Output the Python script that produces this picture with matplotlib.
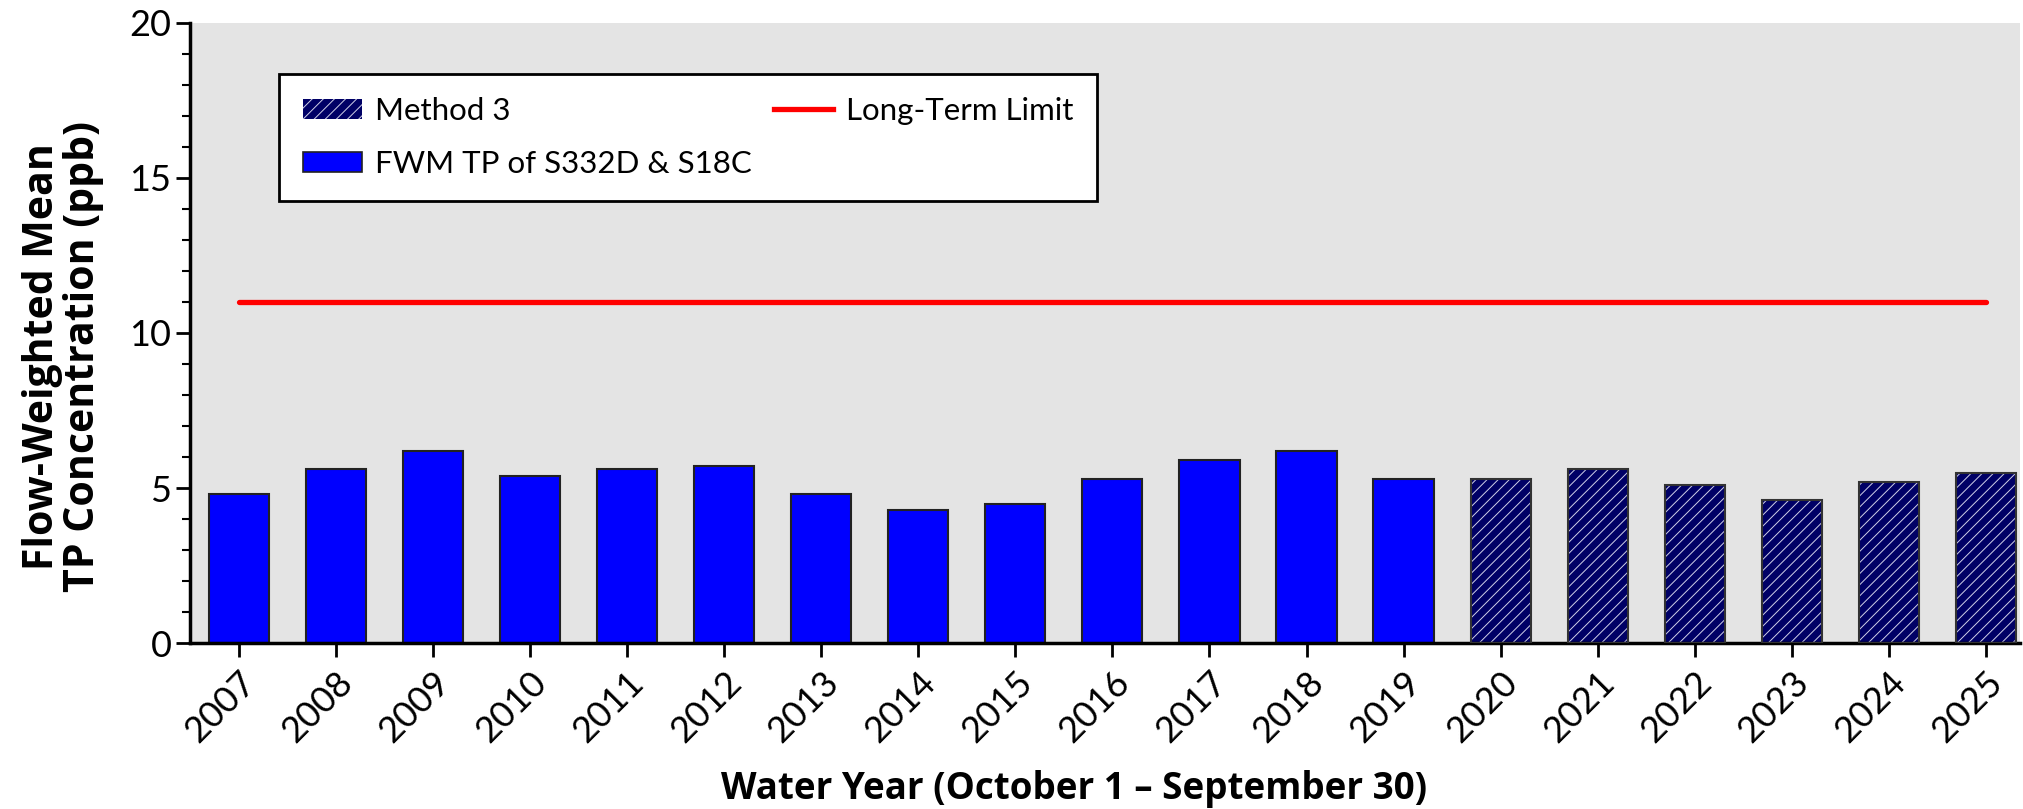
import matplotlib.pyplot as plt
from matplotlib.patches import Patch
from matplotlib.lines import Line2D
from matplotlib.ticker import MultipleLocator

years = list(range(2007, 2026))
fwm_tp = [4.8, 5.6, 6.2, 5.4, 5.6, 5.7, 4.8, 4.3, 4.5, 5.3, 5.9, 6.2, 5.3,
          5.3, 5.6, 5.1, 4.6, 5.2, 5.5]
method3_years = [2020, 2021, 2022, 2023, 2024, 2025]
long_term_limit = 11

TICK_FONT = "Lato"
BLUE = "#0000ff"
NAVY = "#000066"
HATCH = "///"
HATCH_COLOR = "#d0d0e8"

plt.rcParams["hatch.linewidth"] = 0.7

fig = plt.figure(figsize=(20.24, 8.09), dpi=100)
ax = fig.add_axes([0.094, 0.205, 0.904, 0.767])
ax.set_facecolor("#e4e4e4")

for y, v in zip(years, fwm_tp):
    if y in method3_years:
        ax.bar(y, v, width=0.62, color=NAVY, edgecolor=HATCH_COLOR, hatch=HATCH,
               linewidth=0, zorder=2)
        ax.bar(y, v, width=0.62, fill=False, edgecolor="#333333", linewidth=1.5, zorder=3)
    else:
        ax.bar(y, v, width=0.62, color=BLUE, edgecolor="#222222", linewidth=1.5, zorder=2)

ax.plot([years[0], years[-1]], [long_term_limit] * 2, color="red", lw=3.8,
        solid_capstyle="round", zorder=4)

ax.set_xlim(2006.5, 2025.35)
ax.set_ylim(0, 20)
ax.set_xticks(years)
ax.set_xticklabels([str(y) for y in years], rotation=45, ha="right",
                   rotation_mode="anchor", fontsize=26, family=TICK_FONT)
ax.yaxis.set_major_locator(MultipleLocator(5))
ax.yaxis.set_minor_locator(MultipleLocator(1))
for lab in ax.get_yticklabels():
    lab.set_family(TICK_FONT)
    lab.set_fontsize(26)
ax.tick_params(axis="both", which="major", direction="out", length=10, width=2)
ax.tick_params(axis="y", which="minor", direction="out", length=6, width=1.5)
ax.tick_params(axis="x", pad=6)
for s in ["top", "right"]:
    ax.spines[s].set_visible(False)
for s in ["left", "bottom"]:
    ax.spines[s].set_linewidth(2.5)

ax.set_ylabel("Flow-Weighted Mean\nTP Concentration (ppb)", fontsize=29.5,
              fontweight="bold", family="Open Sans", linespacing=1.0)
ax.yaxis.set_label_coords(-0.047, 0.4625)
ax.set_xlabel("Water Year (October 1 \u2013 September 30)", fontsize=26.5,
              fontweight="bold", family="Open Sans")
ax.xaxis.set_label_coords(0.483, -0.205)

handles = [
    Patch(facecolor=NAVY, edgecolor=HATCH_COLOR, hatch=HATCH, linewidth=0),
    Patch(facecolor=BLUE, edgecolor="#222222", linewidth=1.2),
    Line2D([], [], color="red", lw=3.8),
]
labels = ["Method 3", "FWM TP of S332D & S18C", "Long-Term Limit"]
leg = ax.legend(handles, labels, ncol=2, loc="upper left",
                bbox_to_anchor=(0.0487, 0.918), borderaxespad=0,
                frameon=True, fancybox=False, edgecolor="black",
                prop={"family": TICK_FONT, "size": 22.5},
                handlelength=1.9, handleheight=0.65, handletextpad=0.42,
                columnspacing=0.7, borderpad=0.75, labelspacing=0.8)
leg.get_frame().set_linewidth(2)
leg.get_frame().set_alpha(1)

fig.savefig("out.png")
